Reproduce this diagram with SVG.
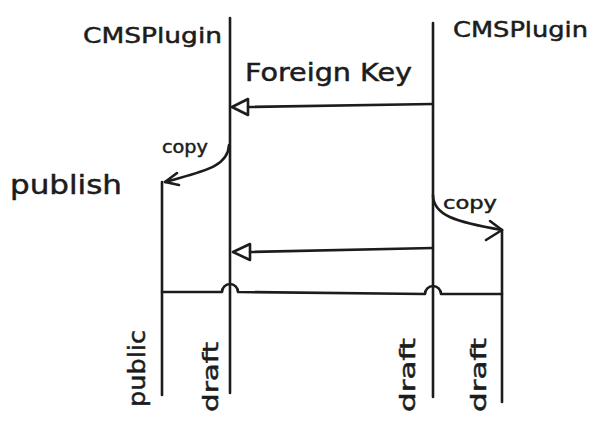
<svg xmlns="http://www.w3.org/2000/svg" width="599" height="423" viewBox="0 0 599 423">
<style>
.ln{fill:none;stroke:#1c1c1c;stroke-width:2.6;stroke-linecap:round;stroke-linejoin:round}
.tx{font-family:"DejaVu Sans","Liberation Sans",sans-serif;fill:#1c1c1c;stroke:#1c1c1c;stroke-width:0.5}
</style>
<rect width="599" height="423" fill="#ffffff"/>
<g id="cmsplugin-left">
<path class="ln" d="M230,18 L230,393"/>
<text class="tx" x="83" y="43" font-size="22" textLength="139" lengthAdjust="spacingAndGlyphs">CMSPlugin</text>
<text class="tx" transform="translate(218,412) rotate(-90)" font-size="22" textLength="70" lengthAdjust="spacingAndGlyphs">draft</text>
</g>
<g id="cmsplugin-right">
<path class="ln" d="M433,23 L433,397"/>
<text class="tx" x="453" y="37" font-size="22" textLength="135" lengthAdjust="spacingAndGlyphs">CMSPlugin</text>
<text class="tx" transform="translate(415,412) rotate(-90)" font-size="22" textLength="74" lengthAdjust="spacingAndGlyphs">draft</text>
</g>
<g id="public">
<path class="ln" d="M162,182 L162,395"/>
<text class="tx" x="10" y="194" font-size="27" textLength="112" lengthAdjust="spacingAndGlyphs">publish</text>
<text class="tx" transform="translate(145,407) rotate(-90)" font-size="23" textLength="77" lengthAdjust="spacingAndGlyphs">public</text>
</g>
<g id="draft-copy">
<path class="ln" d="M502,230 L502,402"/>
<text class="tx" transform="translate(486,412) rotate(-90)" font-size="22" textLength="74" lengthAdjust="spacingAndGlyphs">draft</text>
</g>
<g id="connectors">
<path class="ln" d="M433,104 L248,107"/>
<path class="ln" d="M232,107 L248,99 L248,115 Z"/>
<text class="tx" x="245" y="81" font-size="24" textLength="167" lengthAdjust="spacingAndGlyphs">Foreign Key</text>
<path class="ln" d="M433,248 L250,252"/>
<path class="ln" d="M233,252 L250,244 L250,260 Z"/>
<path class="ln" d="M162,292 L222,292 A8,8 0 0 1 238,292 L425,294 A8,8 0 0 1 441,294 L502,294"/>
<path class="ln" d="M229,145 C228,168 200,172 165,182"/>
<path class="ln" d="M177,173 L165,182 L179,185"/>
<text class="tx" x="162" y="153" font-size="18" textLength="46" lengthAdjust="spacingAndGlyphs">copy</text>
<path class="ln" d="M433,195 C433,215 455,222 502,230"/>
<path class="ln" d="M490,221 L502,230 L486,240"/>
<text class="tx" x="443" y="209" font-size="18" textLength="54" lengthAdjust="spacingAndGlyphs">copy</text>
</g>
</svg>
